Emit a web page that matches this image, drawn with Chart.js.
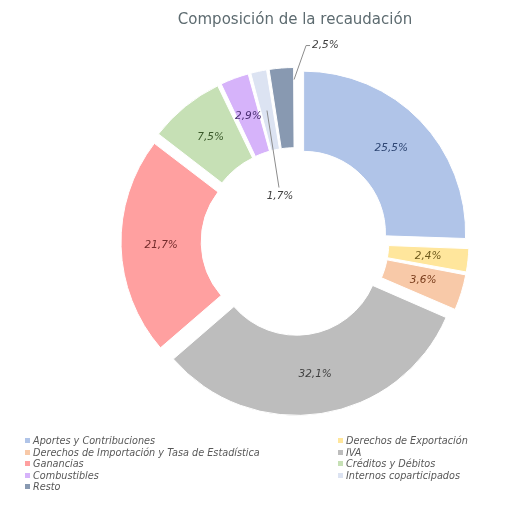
<!DOCTYPE html>
<html>
<head>
<meta charset="utf-8">
<script src="https://cdn.jsdelivr.net/npm/chart.js@4"></script>
<style>
  html, body { margin: 0; padding: 0; background: #fff; }
  #wrap { position: relative; width: 513px; height: 505px; }
  #myChart { position: absolute; left: 0; top: 0; }
  #legend {
    position: absolute; left: 25px; top: 435px;
    display: grid; grid-template-columns: 313px auto;
    font-family: "DejaVu Sans", sans-serif; font-style: italic;
    font-size: 9.7px; line-height: 11.6px; color: #585858;
  }
  #legend div { white-space: nowrap; }
  #legend span {
    display: inline-block; width: 5px; height: 5px;
    margin-right: 3px; vertical-align: 1px;
  }
</style>
</head>
<body>
<div id="wrap">
  <canvas id="myChart" width="513" height="505"></canvas>
  <div id="legend"></div>
</div>
<script>
const categorias = [
  "Aportes y Contribuciones",
  "Derechos de Exportación",
  "Derechos de Importación y Tasa de Estadística",
  "IVA",
  "Ganancias",
  "Créditos y Débitos",
  "Combustibles",
  "Internos coparticipados",
  "Resto"
];
const porcentajes = [25.5, 2.4, 3.6, 32.1, 21.7, 7.5, 2.9, 1.7, 2.5];

const colores = ["#b0c4e8", "#ffe69c", "#f8c9a8", "#bdbdbd", "#ffa0a0", "#c6e0b5", "#d6b3fa", "#dce3f2", "#8899b1"];
const coloresTexto = ["#2e4673", "#6e5a1c", "#7a3d1c", "#3f3f3f", "#732b2b", "#3b5a2b", "#4a2f73", "#404040", "#404040"];

const SHIFT = 12; // separacion de cada porcion
const ctx = document.getElementById("myChart").getContext("2d");

// etiquetas dentro de las porciones (y con guia para las chicas)
const etiquetas = {
  id: "etiquetas",
  afterDatasetsDraw(chart) {
    const meta = chart.getDatasetMeta(0);
    const c = chart.ctx;
    c.save();
    c.font = "italic 10.5px 'DejaVu Sans'";
    c.textBaseline = "middle";
    meta.data.forEach((arc, i) => {
      const { x, y, startAngle, endAngle, innerRadius, outerRadius } = arc.getProps(["x", "y", "startAngle", "endAngle", "innerRadius", "outerRadius"], true);
      const mid = (startAngle + endAngle) / 2;
      const tx = Math.cos(mid) * SHIFT;
      const ty = Math.sin(mid) * SHIFT;
      const txt = porcentajes[i].toFixed(1).replace(".", ",") + "%";
      c.fillStyle = coloresTexto[i];
      if (i === 8) {
        const sx = x + tx + Math.cos(endAngle) * (outerRadius - 12);
        const sy = y + ty + Math.sin(endAngle) * (outerRadius - 12);
        c.strokeStyle = "#8c8c8c";
        c.lineWidth = 1;
        c.beginPath();
        c.moveTo(sx, sy);
        c.lineTo(sx + 12, sy - 34);
        c.lineTo(sx + 16, sy - 34);
        c.stroke();
        c.textAlign = "left";
        c.fillText(txt, sx + 18, sy - 34);
      } else if (i === 7) {
        const r = (innerRadius + outerRadius) / 2;
        const sx = x + tx + Math.cos(mid) * r;
        const sy = y + ty + Math.sin(mid) * r;
        c.strokeStyle = "#8c8c8c";
        c.lineWidth = 1;
        c.beginPath();
        c.moveTo(sx, sy);
        c.lineTo(sx + 12, sy + 77);
        c.stroke();
        c.textAlign = "center";
        c.fillText(txt, sx + 13, sy + 86);
      } else {
        const r = (innerRadius + outerRadius) / 2;
        c.textAlign = "center";
        c.fillText(txt, x + tx + Math.cos(mid) * r, y + ty + Math.sin(mid) * r);
      }
    });
    c.restore();
  }
};

const chart = new Chart(ctx, {
  type: "doughnut",
  data: {
    labels: categorias,
    datasets: [
      {
        data: porcentajes,
        backgroundColor: colores,
        borderColor: "#fff",
        borderWidth: 1,
        clip: false,
        // chart.js desplaza offset/4*(1+fix); se compensa para que todas salgan igual
        offset: (c) => {
          const total = c.dataset.data.reduce((a, b) => a + b, 0);
          const circ = (c.raw / total) * 2 * Math.PI;
          return (4 * SHIFT) / (2 - Math.sin(Math.min(Math.PI, circ)));
        },
      },
    ],
  },
  options: {
    responsive: false,
    animation: false,
    radius: 162,
    cutout: "50.5%",
    layout: { padding: { left: 95, right: 18, top: 0, bottom: 51 } },
    plugins: {
      legend: { display: false },
      tooltip: { enabled: false },
      title: {
        display: true,
        text: "Composición de la recaudación",
        color: "#5d6b70",
        font: { family: "'DejaVu Sans'", size: 15, weight: "normal", lineHeight: 1.2 },
        padding: { top: 11, bottom: 0 },
      },
    },
  },
  plugins: [etiquetas],
});

const legend = document.getElementById("legend");
categorias.forEach((cat, i) => {
  const item = document.createElement("div");
  item.innerHTML = `<span style="background:${colores[i]}"></span>${cat}`;
  legend.appendChild(item);
});
</script>
</body>
</html>
